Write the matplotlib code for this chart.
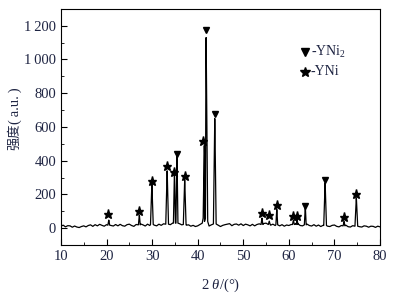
import numpy as np
import matplotlib
matplotlib.use("Agg")
import matplotlib.pyplot as plt
from matplotlib.ticker import MultipleLocator, FuncFormatter

# baseline intensity, 2theta = 10, 10.5, ..., 80
base_x = [10 + 0.5 * i for i in range(141)]
base_y = [12, 18, 8, 15, 14, 6, 13, 7, 4, 10, 14, 8, 16, 20, 11, 21, 14, 23, 17, 12,
          21, 24, 16, 13, 22, 14, 23, 15, 12, 21, 24, 16, 11, 22, 15, 25, 20, 13, 24, 16,
          27, 18, 14, 24, 17, 26, 20, 28, 21, 30, 32, 25, 27, 20, 26, 18, 20, 12, 17, 10,
          14, 22, 30, 42, 22, 13, 20, 24, 12, 18, 10, 17, 21, 24, 27, 15, 23, 25, 18, 26,
          16, 24, 20, 14, 23, 14, 22, 26, 20, 28, 30, 22, 18, 24, 16, 23, 14, 21, 12, 19,
          16, 22, 24, 27, 26, 16, 14, 22, 24, 16, 13, 21, 12, 19, 10, 17, 20, 12, 10, 17,
          19, 11, 8, 16, 10, 18, 9, 7, 15, 8, 16, 9, 7, 14, 12, 6, 12, 11, 5, 12, 8]

# diffraction peaks (2theta, peak intensity, half width, foot intensity)
peak_x = [20.5, 27.2, 29.95, 33.3, 34.9, 35.45, 37.15, 41.45, 41.85, 43.75,
          54.1, 55.7, 57.35, 61.0, 61.8, 63.6, 67.95, 72.1, 74.8]
peak_y = [48, 78, 262, 340, 330, 428, 288, 490, 1130, 650,
          60, 42, 112, 48, 52, 125, 270, 40, 180]
peak_w = [0.2, 0.2, 0.3, 0.3, 0.22, 0.22, 0.3, 0.25, 0.35, 0.3,
          0.2, 0.2, 0.2, 0.2, 0.2, 0.2, 0.3, 0.2, 0.3]
foot_y = [18, 20, 22, 24, 30, 30, 22, 60, 40, 25,
          22, 22, 20, 22, 22, 20, 16, 14, 12]

# phase markers
yni2_x = [35.45, 41.85, 43.75, 63.6, 67.95]
yni2_y = [442, 1172, 676, 131, 287]
yni_x = [20.4, 27.2, 29.95, 33.3, 34.9, 37.15, 41.2, 54.1, 55.7, 57.35, 61.0, 61.8, 72.1, 74.8]
yni_y = [82, 101, 281, 370, 336, 310, 515, 91, 78, 137, 72, 72, 66, 200]

# assemble pattern points
pts = list(zip(base_x, base_y))
pts = [p for p in pts if not any(abs(p[0] - q) <= w for q, w in zip(peak_x, peak_w))]
for px, py, pw, fy in zip(peak_x, peak_y, peak_w, foot_y):
    pts += [(px - pw, fy), (px - 0.04, py * 0.9), (px, py), (px + 0.04, py * 0.9), (px + pw, fy)]
pts.sort()
xs = [p[0] for p in pts]
ys = [p[1] for p in pts]

tcol = '#1e2442'
serif = ['Liberation Serif', 'DejaVu Serif']
plt.rcParams['font.family'] = serif
plt.rcParams['mathtext.fontset'] = 'custom'
plt.rcParams['mathtext.it'] = 'Liberation Serif:italic'
plt.rcParams['mathtext.rm'] = 'Liberation Serif'

fig = plt.figure(figsize=(3.93, 2.96), dpi=100)
ax = fig.add_axes([0.155, 0.172, 0.812, 0.798])
ax.plot(xs, ys, color='black', lw=0.9)
ax.plot(yni2_x, yni2_y, 'v', color='black', ms=4.6, ls='none')
ax.plot(yni_x, yni_y, '*', color='black', ms=6.5, ls='none')

ax.set_xlim(10, 80)
ax.set_ylim(-100, 1300)
ax.xaxis.set_major_locator(MultipleLocator(10))
ax.xaxis.set_minor_locator(MultipleLocator(5))
ax.yaxis.set_major_locator(MultipleLocator(200))
ax.yaxis.set_minor_locator(MultipleLocator(100))
ax.yaxis.set_major_formatter(FuncFormatter(
    lambda v, p: (f"{int(v)//1000}\u2009{int(v)%1000:03d}" if v >= 1000 else f"{int(v)}")))
ax.tick_params(which='both', direction='in', top=False, right=False, labelsize=10.5,
               labelcolor=tcol)
ax.tick_params(which='major', length=4)
ax.tick_params(which='minor', length=2.5)
for s in ax.spines.values():
    s.set_linewidth(0.8)

ax.set_xlabel(r'2 $\it{\theta}$/(°)', fontsize=10.5, color=tcol)
ax.xaxis.set_label_coords(0.5, -0.135)

# y label: 强度 (CJK) then (a.u.) (serif)
fig.text(0.036, 1 - 150 / 296, '强度', rotation=90, ha='center', va='bottom',
         fontsize=9.5, family=['Noto Sans CJK SC'], color=tcol)
fig.text(0.038, 1 - 87 / 296, '(\u2009a.u.\u2009)', rotation=90, ha='center', va='top',
         fontsize=10.5, color=tcol)

ax.plot([0.765], [0.819], 'v', color='black', ms=5.5, transform=ax.transAxes, clip_on=False)
ax.plot([0.765], [0.733], '*', color='black', ms=7, transform=ax.transAxes, clip_on=False)
ax.text(0.783, 0.819, '-YNi$_2$', transform=ax.transAxes, va='center', ha='left',
        fontsize=10, color=tcol)
ax.text(0.783, 0.733, '-YNi', transform=ax.transAxes, va='center', ha='left',
        fontsize=10, color=tcol)

fig.savefig('out.png', dpi=100)
